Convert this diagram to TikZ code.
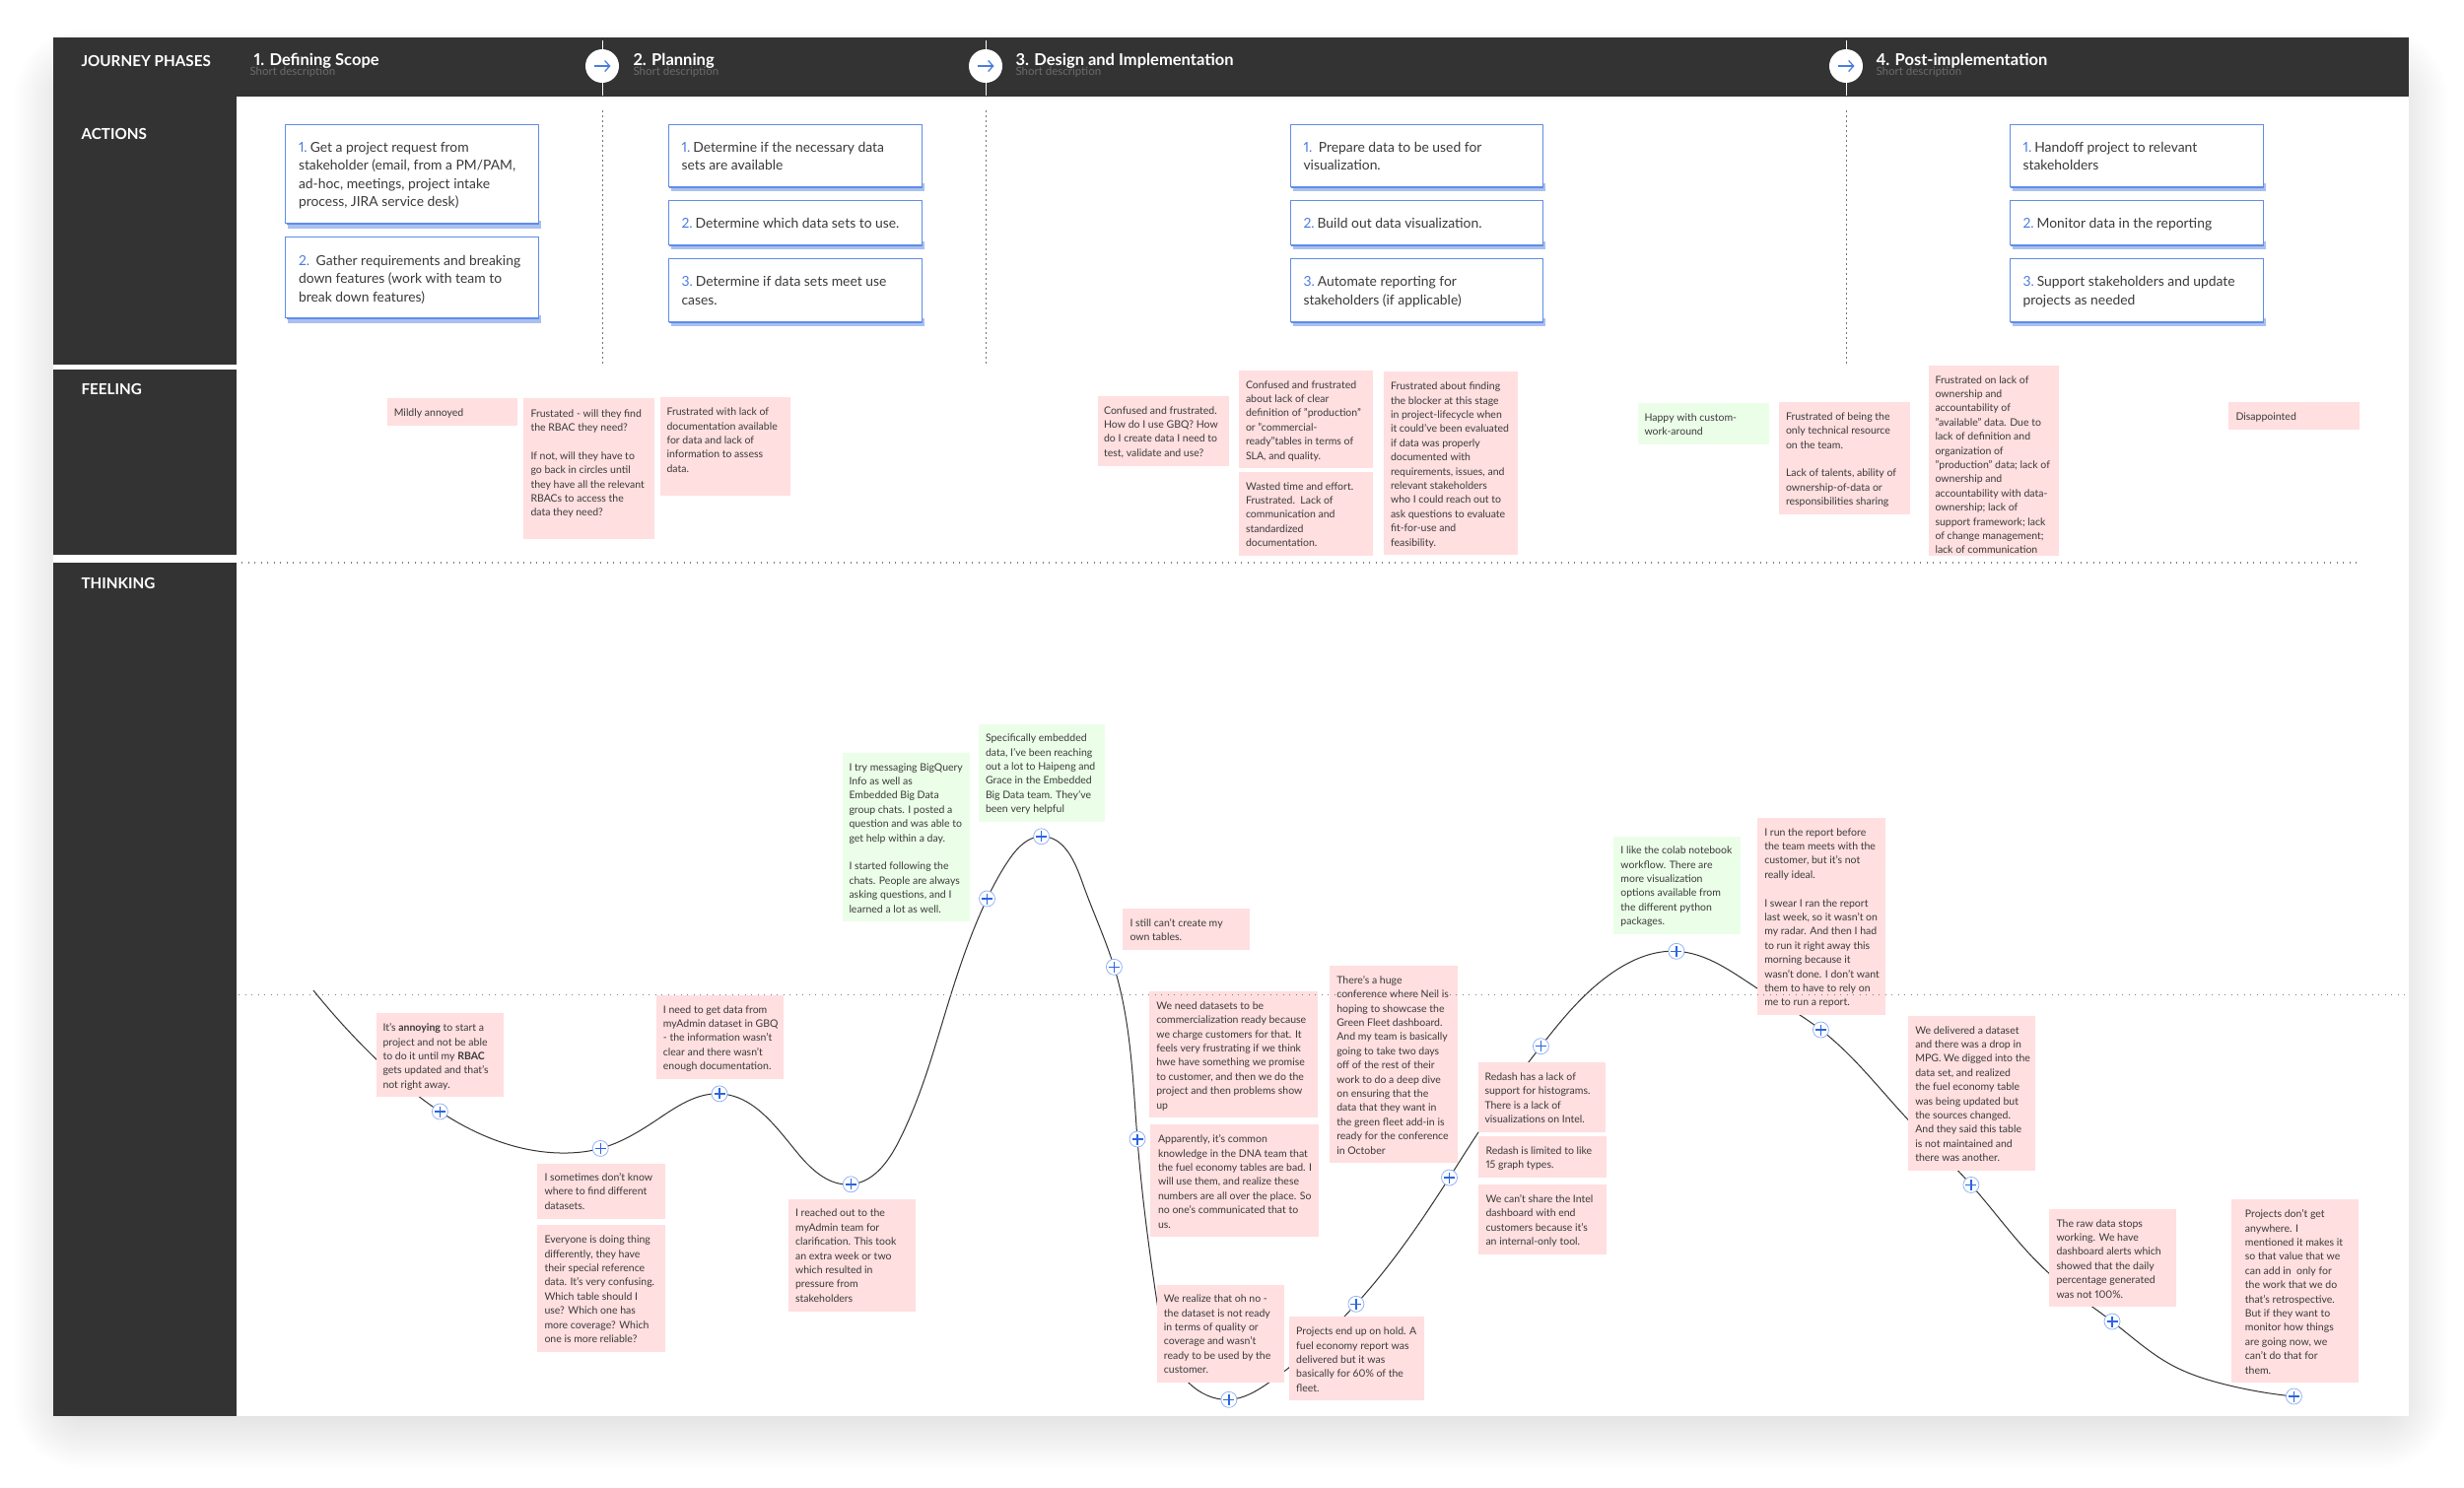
\documentclass[tikz,border=0pt]{standalone}
\usepackage{fontspec}
\setmainfont[Numbers=Proportional]{Lato}
\usetikzlibrary{arrows.meta,calc,hobby}
\definecolor{panel}{HTML}{333333}
\definecolor{pinkbox}{HTML}{FFDFE0}
\definecolor{greenbox}{HTML}{EBFFE8}
\definecolor{bluebord}{HTML}{5F8DE8}
\definecolor{blueshad}{HTML}{A9C0F0}
\definecolor{numblue}{HTML}{4A7CE0}
\definecolor{plusblue}{HTML}{2B66E0}
\definecolor{plusring}{HTML}{8FB0F5}
\definecolor{inkgray}{HTML}{3A3A3A}
\pgfdeclarelayer{bg}
\pgfsetlayers{bg,main}
\tikzset{
  x=0.4pt,y=-0.4pt,
  stickybox/.style={rectangle,draw=none,inner sep=0pt},
  stickytext/.style={anchor=north west,inner sep=0pt,align=left,text=inkgray,font=\fontsize{4.2pt}{5.76pt}\selectfont},
  actionbox/.style={rectangle,draw=bluebord,line width=0.4pt,fill=white,inner sep=0pt},
  actiontext/.style={anchor=north west,inner sep=0pt,align=left,text=inkgray,font=\fontsize{5.55pt}{7.44pt}\selectfont},
  sidelabel/.style={anchor=west,inner sep=0pt,text=white,font=\fontsize{6.1pt}{7pt}\selectfont\bfseries},
  phasetitle/.style={anchor=west,inner sep=0pt,text=white,font=\fontsize{6.6pt}{7pt}\selectfont\bfseries},
  phasesub/.style={anchor=west,inner sep=0pt,text=black!58,font=\fontsize{4.6pt}{5pt}\selectfont},
  phasecircle/.style={circle,fill=white,draw=none,minimum size=13.6pt,inner sep=0pt,
    path picture={\draw[numblue,line width=0.5pt,-{Straight Barb[length=2pt,width=4.4pt]}]
      ([xshift=-3.4pt]path picture bounding box.center) -- ([xshift=3.4pt]path picture bounding box.center);}},
  plusnode/.style={circle,fill=white,draw=plusring,line width=0.3pt,minimum size=6.4pt,inner sep=0pt,
    path picture={\draw[plusblue,line width=0.55pt]
      ([xshift=-2.2pt]path picture bounding box.center) -- ([xshift=2.2pt]path picture bounding box.center)
      ([yshift=-2.2pt]path picture bounding box.center) -- ([yshift=2.2pt]path picture bounding box.center);}},
  phaseline/.style={draw=white,line width=0.4pt},
  vdots/.style={draw=black!55,line width=0.25pt,dash pattern=on 0.9pt off 1.1pt},
  hdots/.style={draw=black!50,line width=0.45pt,dash pattern=on 0.5pt off 2.1pt},
  journeycurve/.style={draw=black!80,line width=0.4pt},
}
\newcommand{\firstS}{\rule{0pt}{4pt}}
\newcommand{\firstA}{\rule{0pt}{5.6pt}}
\newcommand{\nm}[1]{\textcolor{numblue}{#1}\hspace{1.2pt}}
% \sticky[colour]{name}{x0}{y0}{x1}{y1}{text x}{first line y}{text}
\newcommand{\sticky}[9][pinkbox]{%
  \node[stickybox,fill=#1,minimum width={(#5-#3)*0.4pt},minimum height={(#6-#4)*0.4pt}] (#2) at ({(#3+#5)/2},{(#4+#6)/2}) {};
  \node[stickytext] (#2t) at (#7,{#8-6.5}) {\firstS #9};}
% \action{name}{x0}{y0}{x1}{y1}{first line y}{text}
\newcommand{\action}[7]{%
  \fill[blueshad] ({#2+2.5},{#5-3}) rectangle ({#4+2.5},{#5+5});
  \fill[bluebord] ({#2+1},{#5-2}) rectangle ({#4+0.5},{#5+1.5});
  \node[actionbox,minimum width={(#4-#2)*0.4pt},minimum height={(#5-#3)*0.4pt}] (#1) at ({(#2+#4)/2},{(#3+#5)/2}) {};
  \node[actiontext] (#1t) at ({#2+13},{#6-9.5}) {\firstA #7};}
\begin{document}
\begin{tikzpicture}
\useasboundingbox (0,0) rectangle (2500,1509);

% ---------- phase markers
\coordinate (m1a) at (611,41); \coordinate (m1b) at (611,97);
\coordinate (m2a) at (1000,41); \coordinate (m2b) at (1000,97);
\coordinate (m3a) at (1873,41); \coordinate (m3b) at (1873,97);
\coordinate (d1a) at (611,112); \coordinate (d1b) at (611,370);
\coordinate (d2a) at (1000,112); \coordinate (d2b) at (1000,370);
\coordinate (d3a) at (1873,112); \coordinate (d3b) at (1873,370);
\draw[phaseline] (m1a) -- (m1b);
\draw[phaseline] (m2a) -- (m2b);
\draw[phaseline] (m3a) -- (m3b);
\draw[vdots] (d1a) -- (d1b);
\draw[vdots] (d2a) -- (d2b);
\draw[vdots] (d3a) -- (d3b);
\node[phasecircle] (c1) at (611,67) {};
\node[phasecircle] (c2) at (1000,67) {};
\node[phasecircle] (c3) at (1873,67) {};

% ---------- header labels
\node[sidelabel] (jp) at (82,61.5) {JOURNEY PHASES};
\node[sidelabel] (act) at (82,135.5) {ACTIONS};
\node[sidelabel] (fee) at (82,395) {FEELING};
\node[sidelabel] (thi) at (82,592) {THINKING};
\node[phasetitle] (p1) at (257,61.5) {1. Defining Scope};
\node[phasesub] (s1) at (253,73) {Short description};
\node[phasetitle] (p2) at (642,61.5) {2. Planning};
\node[phasesub] (s2) at (642,73) {Short description};
\node[phasetitle] (p3) at (1030,61.5) {3. Design and Implementation};
\node[phasesub] (s3) at (1030,73) {Short description};
\node[phasetitle] (p4) at (1903,61.5) {4. Post-implementation};
\node[phasesub] (s4) at (1903,73) {Short description};

% ---------- actions
\action{a11}{289.5}{126}{546.5}{226.5}{149}{\nm{1.}Get a project request from\\stakeholder (email, from a PM/PAM,\\ad-hoc, meetings, project intake\\process, JIRA service desk)}
\action{a12}{289.5}{240.7}{546.5}{322.7}{264}{\nm{2.}\ Gather requirements and breaking\\down features (work with team to\\break down features)}
\action{a21}{678}{126}{935}{189}{149}{\nm{1.}Determine if the necessary data\\sets are available}
\action{a22}{678}{203}{935}{248}{226.5}{\nm{2.}Determine which data sets to use.}
\action{a23}{678}{262.7}{935}{326}{285.7}{\nm{3.}Determine if data sets meet use\\cases.}
\action{a31}{1309}{126}{1565.5}{189}{149}{\nm{1.}\ Prepare data to be used for\\visualization.}
\action{a32}{1309}{203}{1565.5}{248}{226.5}{\nm{2.}Build out data visualization.}
\action{a33}{1309}{262.7}{1565.5}{326}{285.7}{\nm{3.}Automate reporting for\\stakeholders (if applicable)}
\action{a41}{2039}{126}{2296}{189}{149}{\nm{1.}Handoff project to relevant\\stakeholders}
\action{a42}{2039}{203}{2296}{248}{226.5}{\nm{2.}Monitor data in the reporting}
\action{a43}{2039}{262.7}{2296}{326}{285.7}{\nm{3.}Support stakeholders and update\\projects as needed}

% ---------- feeling
\sticky{f1}{393}{404}{525}{432}{399.3}{418}{Mildly annoyed}
\sticky{f2}{531}{404.3}{663.6}{546.7}{538}{419}{Frustated - will they find\\the RBAC they need?\\[5.76pt]If not, will they have to\\go back in circles until\\they have all the relevant\\RBACs to access the\\data they need?}
\sticky{f3}{669.7}{403.3}{802}{503}{676}{417.7}{Frustrated with lack of\\documentation available\\for data and lack of\\information to assess\\data.}
\sticky{f4}{1113.6}{401.7}{1247}{472.7}{1119.6}{416}{Confused and frustrated.\\How do I use GBQ? How\\do I create data I need to\\test, validate and use?}
\sticky{f5}{1257.4}{375.7}{1393.4}{475.3}{1263.5}{390}{Confused and frustrated\\about lack of clear\\definition of "production"\\or "commercial-\\ready"tables in terms of\\SLA, and quality.}
\sticky{f6}{1257.4}{478.7}{1393.4}{563.7}{1263.5}{493}{Wasted time and effort.\\Frustrated.\ \ Lack of\\communication and\\standardized\\documentation.}
\sticky{f7}{1403.7}{377.3}{1539.8}{563}{1410.5}{391.7}{Frustrated about finding\\the blocker at this stage\\in project-lifecycle when\\it could've been evaluated\\if data was properly\\documented with\\requirements, issues, and\\relevant stakeholders\\who I could reach out to\\ask questions to evaluate\\fit-for-use and\\feasibility.}
\sticky[greenbox]{f8}{1662}{408.7}{1794.6}{450.7}{1668}{423.3}{Happy with custom-\\work-around}
\sticky{f9}{1805}{407.7}{1938.4}{521.7}{1811.5}{422.3}{Frustrated of being the\\only technical resource\\on the team.\\[5.76pt]Lack of talents, ability of\\ownership-of-data or\\responsibilities sharing}
\sticky{f10}{1956.5}{370.7}{2089}{563.7}{1963}{385}{Frustrated on lack of\\ownership and\\accountability of\\"available" data. Due to\\lack of definition and\\organization of\\"production" data; lack of\\ownership and\\accountability with data-\\ownership; lack of\\support framework; lack\\of change management;\\lack of communication}
\sticky{f11}{2261}{407.7}{2394}{435.7}{2268}{422}{Disappointed}

% ---------- curve points
\node[plusnode] (P1) at (446.4,1128) {};
\node[plusnode] (P2) at (609.2,1165.4) {};
\node[plusnode] (P3) at (730,1109.9) {};
\node[plusnode] (P4) at (863.3,1201.8) {};
\node[plusnode] (P5) at (1001.5,912) {};
\node[plusnode] (P6) at (1056.6,848.8) {};
\node[plusnode] (P7) at (1130.4,981.3) {};
\node[plusnode] (P8) at (1154,1156) {};
\node[plusnode] (P9) at (1246.9,1420.3) {};
\node[plusnode] (P10) at (1375.9,1323.3) {};
\node[plusnode] (P11) at (1470.5,1195) {};
\node[plusnode] (P12) at (1563.4,1061.7) {};
\node[plusnode] (P13) at (1700.9,965.3) {};
\node[plusnode] (P14) at (1847.4,1045) {};
\node[plusnode] (P15) at (1999.9,1202.4) {};
\node[plusnode] (P16) at (2143,1341) {};
\node[plusnode] (P17) at (2327.4,1417) {};

% ---------- thinking
\sticky{t1}{382}{1028.3}{510.7}{1113.3}{388}{1042.6}{It's \textbf{annoying} to start a\\project and not be able\\to do it until my \textbf{RBAC}\\gets updated and that's\\not right away.}
\sticky{t2}{545.4}{1180.5}{674.5}{1236.5}{552}{1194.4}{I sometimes don't know\\where to find different\\datasets.}
\sticky{t3}{545.4}{1243.4}{674.5}{1371.8}{552}{1257.7}{Everyone is doing thing\\differently, they have\\their special reference\\data. It's very confusing.\\Which table should I\\use? Which one has\\more coverage? Which\\one is more reliable?}
\sticky{t4}{665.8}{1009.7}{795}{1094.7}{672.4}{1024}{I need to get data from\\myAdmin dataset in GBQ\\- the information wasn't\\clear and there wasn't\\enough documentation.}
\sticky{t5}{799.5}{1217}{928.6}{1330.6}{806.6}{1230.8}{I reached out to the\\myAdmin team for\\clarification. This took\\an extra week or two\\which resulted in\\pressure from\\stakeholders}
\sticky[greenbox]{t6}{854.6}{763.8}{983.7}{935}{861}{778}{I try messaging BigQuery\\Info as well as\\Embedded Big Data\\group chats. I posted a\\question and was able to\\get help within a day.\\[5.76pt]I started following the\\chats. People are always\\asking questions, and I\\learned a lot as well.}
\sticky[greenbox]{t7}{992.9}{734.7}{1121}{834}{999.5}{748.6}{Specifically embedded\\data, I've been reaching\\out a lot to Haipeng and\\Grace in the Embedded\\Big Data team. They've\\been very helpful}
\sticky{t8}{1139}{922}{1268}{963.7}{1146}{936}{I still can't create my\\own tables.}
\sticky{t9}{1166}{1006}{1336.6}{1134.3}{1172.8}{1020.3}{We need datasets to be\\commercialization ready because\\we charge customers for that. It\\feels very frustrating if we think\\hwe have something we promise\\to customer, and then we do the\\project and then problems show\\up}
\sticky{t10}{1167.4}{1141.3}{1338}{1255}{1174.5}{1155.7}{Apparently, it's common\\knowledge in the DNA team that\\the fuel economy tables are bad. I\\will use them, and realize these\\numbers are all over the place. So\\no one's communicated that to\\us.}
\sticky{t11}{1349}{980}{1478.6}{1180}{1355.8}{994.3}{There's a huge\\conference where Neil is\\hoping to showcase the\\Green Fleet dashboard.\\And my team is basically\\going to take two days\\off of the rest of their\\work to do a deep dive\\on ensuring that the\\data that they want in\\the green fleet add-in is\\ready for the conference\\in October}
\sticky{t12}{1499.6}{1078}{1629}{1148.7}{1506}{1092.3}{Redash has a lack of\\support for histograms.\\There is a lack of\\visualizations on Intel.}
\sticky{t13}{1500.4}{1153.3}{1629.5}{1195.3}{1507}{1167.3}{Redash is limited to like\\15 graph types.}
\sticky{t14}{1500.4}{1202.3}{1629.5}{1273}{1507}{1216.3}{We can't share the Intel\\dashboard with end\\customers because it's\\an internal-only tool.}
\sticky{t15}{1173.7}{1303.7}{1303}{1403}{1180.4}{1317.7}{We realize that oh no -\\the dataset is not ready\\in terms of quality or\\coverage and wasn't\\ready to be used by the\\customer.}
\sticky{t16}{1308}{1336.3}{1444.6}{1421.3}{1314.7}{1350.7}{Projects end up on hold. A\\fuel economy report was\\delivered but it was\\basically for 60\% of the\\fleet.}
\sticky[greenbox]{t17}{1636.8}{848.9}{1766}{948}{1643.9}{862.7}{I like the colab notebook\\workflow. There are\\more visualization\\options available from\\the different python\\packages.}
\sticky{t18}{1783}{830}{1912.7}{1029.6}{1789.8}{844}{I run the report before\\the team meets with the\\customer, but it's not\\really ideal.\\[5.76pt]I swear I ran the report\\last week, so it wasn't on\\my radar. And then I had\\to run it right away this\\morning because it\\wasn't done. I don't want\\them to have to rely on\\me to run a report.}
\sticky{t19}{1936}{1031}{2065}{1187.7}{1942.8}{1045}{We delivered a dataset\\and there was a drop in\\MPG. We digged into the\\data set, and realized\\the fuel economy table\\was being updated but\\the sources changed.\\And they said this table\\is not maintained and\\there was another.}
\sticky{t20}{2079.4}{1226.9}{2208}{1326}{2086}{1241}{The raw data stops\\working. We have\\dashboard alerts which\\showed that the daily\\percentage generated\\was not 100\%.}
\sticky{t21}{2264.3}{1217.4}{2392.7}{1402.8}{2277.4}{1231.6}{Projects don't get\\anywhere. I\\mentioned it makes it\\so that value that we\\can add in\ \ only for\\the work that we do\\that's retrospective.\\But if they want to\\monitor how things\\are going now, we\\can't do that for\\them.}

% ---------- horizontal dotted rules, over the boxes
\coordinate (h1a) at (245,571); \coordinate (h1b) at (2393,571);
\coordinate (h2a) at (242,1009.7); \coordinate (h2b) at (2445,1009.7);
\draw[hdots] (h1a) -- (h1b);
\draw[hdots] (h2a) -- (h2b);

% ---------- curve anchors
\coordinate (k0) at (318,1005);
\coordinate (k1) at (381.6,1074.7);
\coordinate (k3) at (575.5,1170);
\coordinate (k5) at (667,1136);
\coordinate (k7) at (810,1171);
\coordinate (k9) at (912,1158);
\coordinate (k10) at (963,1015);
\coordinate (k11) at (1024,872);
\coordinate (k12) at (1098,895);
\coordinate (k14) at (1173.7,1320);
\coordinate (k15) at (1205.8,1403);
\coordinate (k18) at (1287.5,1403);
\coordinate (k20) at (1364,1336);
\coordinate (k21) at (1500,1149);
\coordinate (k24) at (1636,987);
\coordinate (k27) at (1783,1003);
\coordinate (k29) at (1935.7,1136);
\coordinate (k31) at (2079.4,1292.5);
\coordinate (k33) at (2203,1385);
\coordinate (k34) at (2258,1405);

\begin{pgfonlayer}{bg}
  \fill[white] (0,0) rectangle (2500,1509);
  \foreach \e in {-24,-22,...,40}{
    \fill[black,opacity=0.0055,rounded corners={max(\e+30,2)*0.4pt}] ({54-\e},{70-\e}) rectangle ({2444+\e},{1450+\e});
  }
  \fill[white] (54,38) rectangle (2444.3,1436.7);
  \fill[panel] (54,38) rectangle (2444.3,98);
  \fill[panel] (54,38) rectangle (239.5,370.3);
  \fill[panel] (54,374.7) rectangle (239.5,563.3);
  \fill[panel] (54,571.3) rectangle (239.5,1436.7);
  \draw[journeycurve,use Hobby shortcut]
    (k0) .. (k1) .. (P1.center) .. (k3) .. (P2.center) .. (k5) .. (P3.center) .. (k7) .. (P4.center) .. (k9) .. (k10) .. (P5.center) .. (k11) .. (P6.center) .. (k12) .. (P7.center) .. (P8.center) .. (k14) .. (k15) .. (P9.center) .. (k18) .. (k20) .. (P10.center) .. (P11.center) .. (k21) .. (P12.center) .. (k24) .. (P13.center) .. (k27) .. (P14.center) .. (k29) .. (P15.center) .. (k31) .. (P16.center) .. (k33) .. (k34) .. (P17.center);
\end{pgfonlayer}
\end{tikzpicture}
\end{document}
